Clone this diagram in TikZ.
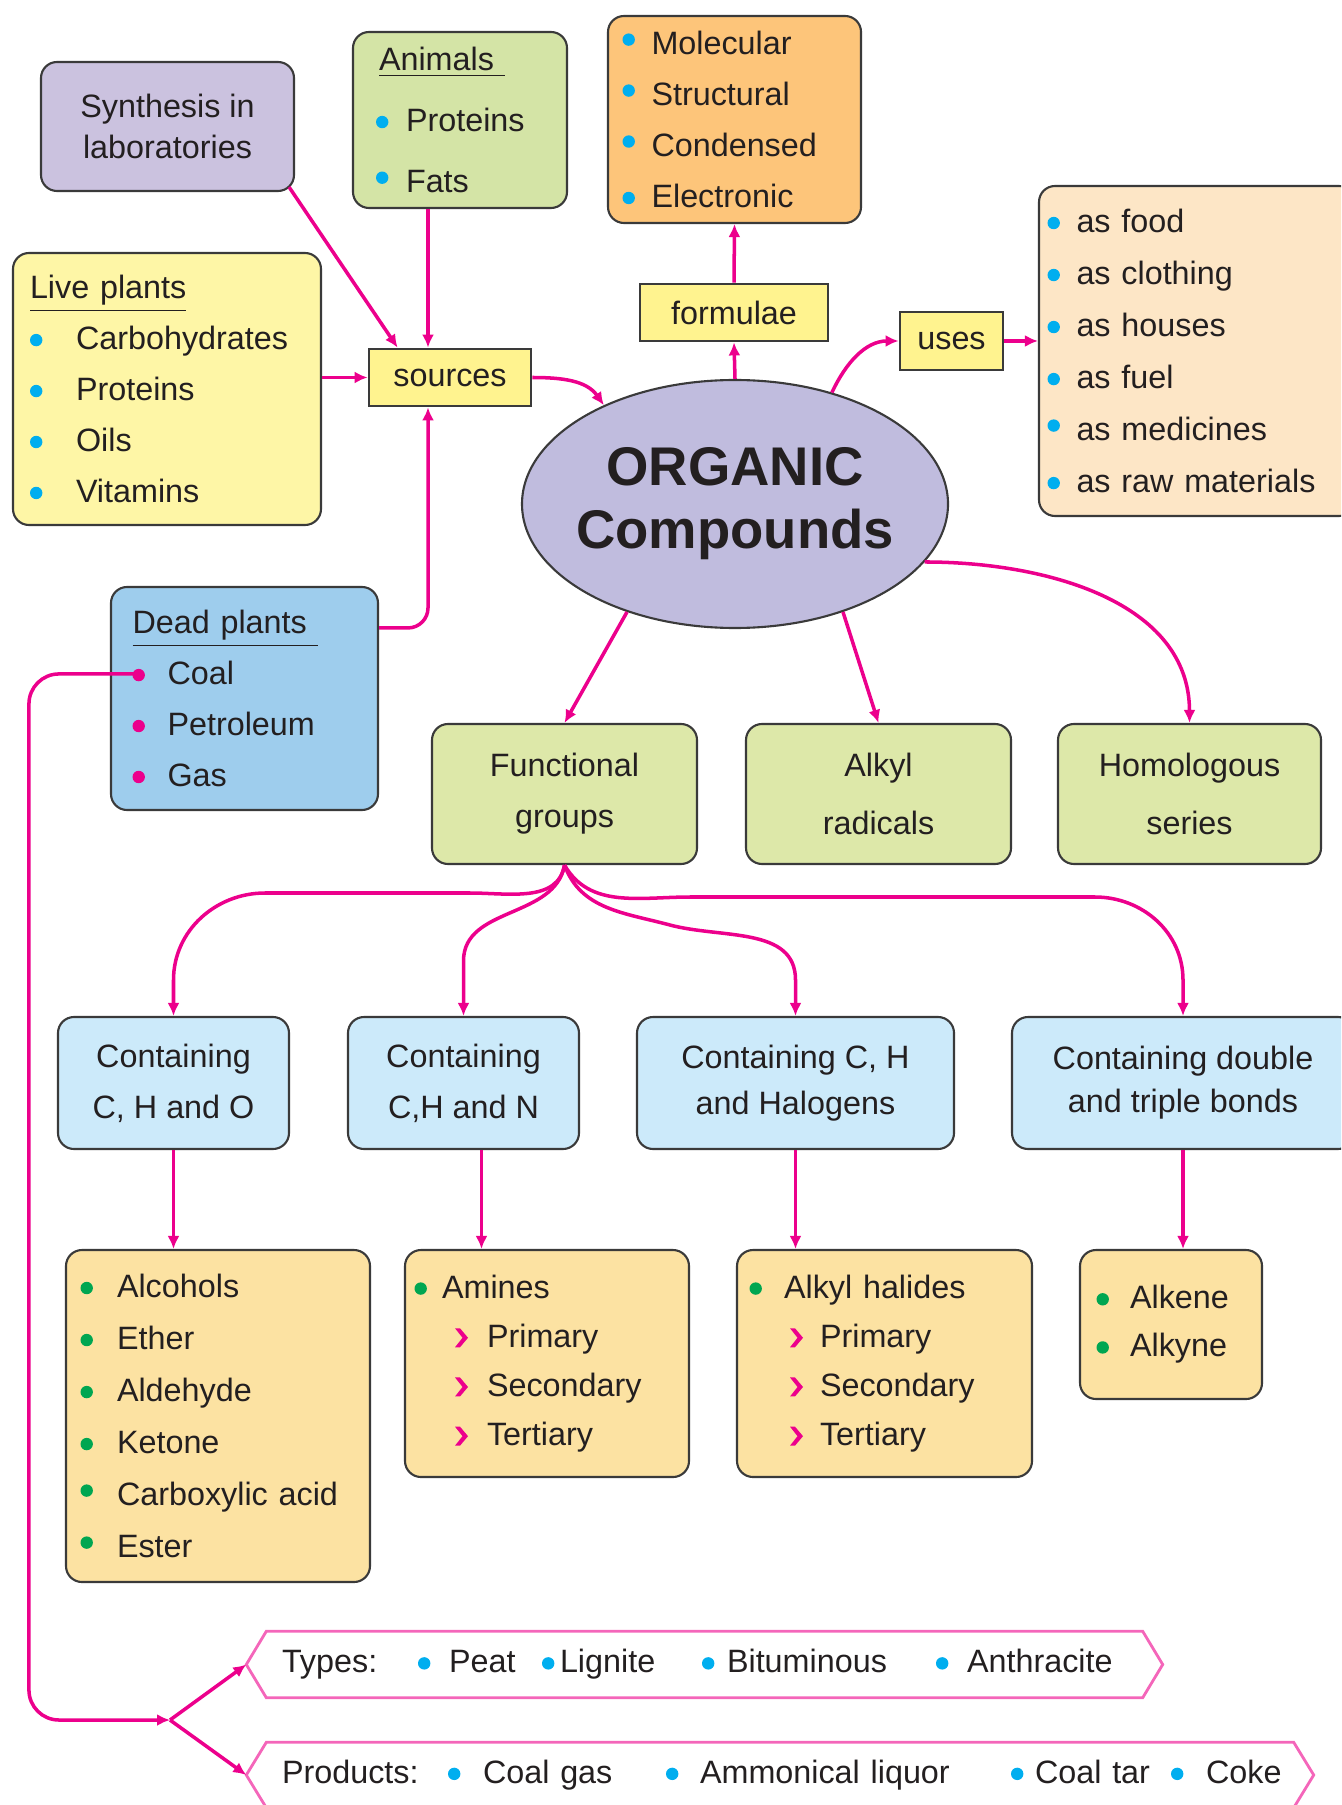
\documentclass[tikz,border=0pt]{standalone}
\usepackage{fontspec}
\setmainfont{Liberation Sans}
\usetikzlibrary{positioning, arrows.meta, shapes.geometric}
\definecolor{pinkln}{HTML}{EC008C}
\definecolor{bulcyan}{HTML}{00AEEF}
\definecolor{bulgreen}{HTML}{00A651}
\definecolor{txtcol}{HTML}{231F20}
\definecolor{boxln}{HTML}{3A3A3A}
\definecolor{synthcol}{HTML}{CBC2DF}
\definecolor{animcol}{HTML}{D4E4A6}
\definecolor{fmlcol}{HTML}{FDC57A}
\definecolor{livecol}{HTML}{FEF6A6}
\definecolor{tagyel}{HTML}{FFF38F}
\definecolor{usecol}{HTML}{FDE6C6}
\definecolor{orgcol}{HTML}{C0BCDE}
\definecolor{deadcol}{HTML}{9ECDED}
\definecolor{funccol}{HTML}{DDE8A9}
\definecolor{contcol}{HTML}{CCEAFA}
\definecolor{listcol}{HTML}{FCE2A2}
\newcommand{\fs}{\fontsize{9.2}{14.5}\selectfont}
\newcommand{\ttlfont}{\fontsize{15.5}{17.9}\selectfont\bfseries}
\newcommand{\blt}[2]{\makebox[#2][l]{\tikz[baseline=0pt, sharp corners]\fill[#1] (0.055,0.095) circle (0.062);}}
\newcommand{\rblt}[2]{\makebox[#2][l]{\tikz[baseline=0pt, sharp corners]\fill[#1] (0.055,0.15) circle (0.062);}}
\newcommand{\chv}[1]{\makebox[#1][l]{\tikz[baseline=0pt, sharp corners]\fill[pinkln] (0,0.19) -- (0.05,0.19) -- (0.13,0.095) -- (0.05,0) -- (0,0) -- (0.075,0.095) -- cycle;}}

\begin{document}
\begin{tikzpicture}[
    every node/.style={font=\fs, text=txtcol},
    panel/.style={draw=boxln, line width=0.6pt, rounded corners=0.16cm, fill=#1},
    tagbox/.style={draw=boxln, line width=0.8pt, fill=tagyel, inner sep=0pt},
    arr/.style={draw=pinkln, line width=1pt, -{Latex[length=1.3mm,width=1.2mm]}},
    banln/.style={draw=pinkln!60, line width=0.8pt},
    >=Latex,
  ]
  \useasboundingbox (0,0) rectangle (13.41,-18.05);
  \clip (0,0) rectangle (13.41,-18.05);

  % sources side
  \node[panel=synthcol, minimum width=2.53cm, minimum height=1.29cm, align=center,
        font=\fontsize{9.2}{11.7}\selectfont] (synth) at (1.675,-1.265)
    {Synthesis in\\laboratories};
  \node[panel=animcol, minimum width=2.14cm, minimum height=1.76cm, text width=1.68cm,
        inner xsep=0.23cm, align=left, font=\fontsize{9.2}{17.4}\selectfont] (anim) at (4.60,-1.20)
    {\hspace*{0.03cm}\underline{Animals\ }\\ \blt{bulcyan}{0.30cm}Proteins\\ \rblt{bulcyan}{0.30cm}Fats};
  \node[panel=livecol, minimum width=3.08cm, minimum height=2.72cm, text width=2.74cm,
        inner xsep=0.17cm, align=left] (live) at (1.67,-3.89)
    {\underline{Live plants}\\ \blt{bulcyan}{0.46cm}Carbohydrates\\ \blt{bulcyan}{0.46cm}Proteins\\
     \blt{bulcyan}{0.46cm}Oils\\ \blt{bulcyan}{0.46cm}Vitamins};
  \node[panel=deadcol, minimum width=2.67cm, minimum height=2.23cm, text width=2.24cm,
        inner xsep=0.215cm, align=left] (dead) at (2.445,-6.985)
    {\underline{Dead plants\ }\\ \blt{pinkln}{0.35cm}Coal\\ \blt{pinkln}{0.35cm}Petroleum\\ \blt{pinkln}{0.35cm}Gas};
  \node[tagbox, minimum width=1.62cm, minimum height=0.57cm] (src) at (4.50,-3.775) {sources};

  % formulae and uses
  \node[panel=fmlcol, minimum width=2.53cm, minimum height=2.07cm, text width=2.24cm,
        inner xsep=0.145cm, align=left] (fml) at (7.345,-1.195)
    {\rblt{bulcyan}{0.29cm}Molecular\\ \rblt{bulcyan}{0.29cm}Structural\\
     \rblt{bulcyan}{0.29cm}Condensed\\ \blt{bulcyan}{0.29cm}Electronic};
  \node[tagbox, minimum width=1.88cm, minimum height=0.57cm] (form) at (7.34,-3.125) {formulae};
  \node[tagbox, minimum width=1.03cm, minimum height=0.58cm] (uses) at (9.515,-3.41) {uses};
  \node[panel=usecol, minimum width=3.16cm, minimum height=3.30cm, text width=2.99cm,
        inner xsep=0.085cm, align=left, font=\fontsize{9.2}{14.8}\selectfont] (usebox) at (11.97,-3.51)
    {\blt{bulcyan}{0.29cm}as food\\ \blt{bulcyan}{0.29cm}as clothing\\ \blt{bulcyan}{0.29cm}as houses\\
     \blt{bulcyan}{0.29cm}as fuel\\ \rblt{bulcyan}{0.29cm}as medicines\\ \blt{bulcyan}{0.29cm}as raw materials};

  \node[ellipse, draw=boxln, line width=0.6pt, fill=orgcol, minimum width=4.26cm, minimum height=2.48cm,
        inner sep=0pt, align=center, font=\ttlfont] (org) at (7.35,-5.04)
    {\makebox[2.9cm]{ORGANIC}\\\makebox[2.9cm]{Compounds}};

  % second row
  \node[panel=funccol, minimum width=2.65cm, minimum height=1.40cm, align=center] (func) at (5.645,-7.94)
    {Functional\\groups};
  \node[panel=funccol, minimum width=2.65cm, minimum height=1.40cm, align=center,
        font=\fontsize{9.2}{16.5}\selectfont] (alk) at (8.785,-7.94) {Alkyl\\radicals};
  \node[panel=funccol, minimum width=2.63cm, minimum height=1.40cm, align=center,
        font=\fontsize{9.2}{16.5}\selectfont] (homo) at (11.895,-7.94) {Homologous\\series};

  \node[panel=contcol, minimum width=2.31cm, minimum height=1.32cm, align=center] (cho) at (1.735,-10.83)
    {Containing\\C, H and O};
  \node[panel=contcol, minimum width=2.31cm, minimum height=1.32cm, align=center] (chn) at (4.635,-10.83)
    {Containing\\C,H and N};
  \node[panel=contcol, minimum width=3.17cm, minimum height=1.32cm, align=center,
        font=\fontsize{9.2}{13.1}\selectfont] (chh) at (7.955,-10.83) {Containing C, H\\and Halogens};
  \node[panel=contcol, minimum width=3.42cm, minimum height=1.32cm, align=center,
        font=\fontsize{9.2}{12.3}\selectfont] (dbl) at (11.83,-10.83) {Containing double\\and triple bonds};

  \node[panel=listcol, minimum width=3.04cm, minimum height=3.32cm, text width=2.75cm,
        inner xsep=0.145cm, align=left, font=\fontsize{9.2}{14.8}\selectfont] (alc) at (2.18,-14.16)
    {\blt{bulgreen}{0.365cm}Alcohols\\ \blt{bulgreen}{0.365cm}Ether\\ \blt{bulgreen}{0.365cm}Aldehyde\\
     \blt{bulgreen}{0.365cm}Ketone\\ \rblt{bulgreen}{0.365cm}Carboxylic acid\\ \rblt{bulgreen}{0.365cm}Ester};
  \node[panel=listcol, minimum width=2.84cm, minimum height=2.27cm, text width=2.65cm,
        inner xsep=0.095cm, align=left, font=\fontsize{9.2}{14}\selectfont] (amn) at (5.47,-13.635)
    {\blt{bulgreen}{0.275cm}Amines\\ \hspace*{0.405cm}\chv{0.32cm}Primary\\
     \hspace*{0.405cm}\chv{0.32cm}Secondary\\ \hspace*{0.405cm}\chv{0.32cm}Tertiary};
  \node[panel=listcol, minimum width=2.95cm, minimum height=2.27cm, text width=2.70cm,
        inner xsep=0.125cm, align=left, font=\fontsize{9.2}{14}\selectfont] (ahl) at (8.845,-13.635)
    {\blt{bulgreen}{0.345cm}Alkyl halides\\ \hspace*{0.405cm}\chv{0.30cm}Primary\\
     \hspace*{0.405cm}\chv{0.30cm}Secondary\\ \hspace*{0.405cm}\chv{0.30cm}Tertiary};
  \node[panel=listcol, minimum width=1.82cm, minimum height=1.49cm, text width=1.49cm,
        inner xsep=0.165cm, align=left, font=\fontsize{9.2}{13.7}\selectfont] (alkn) at (11.71,-13.245)
    {\blt{bulgreen}{0.335cm}Alkene\\ \blt{bulgreen}{0.335cm}Alkyne};

  % coal banners
  \node[minimum width=9.15cm, minimum height=0.65cm, text width=8.45cm, inner xsep=0.35cm,
        inner ysep=0pt, align=left] (typ) at (7.045,-16.645)
    {\makebox[1.36cm][l]{Types:}\makebox[1.24cm][l]{\blt{bulcyan}{0.31cm}Peat}%
     \makebox[1.60cm][l]{\blt{bulcyan}{0.18cm}Lignite}\makebox[2.34cm][l]{\blt{bulcyan}{0.25cm}Bituminous}%
     \blt{bulcyan}{0.31cm}Anthracite};
  \node[minimum width=10.66cm, minimum height=0.64cm, text width=9.96cm, inner xsep=0.35cm,
        inner ysep=0pt, align=left] (prd) at (7.80,-17.75)
    {\makebox[1.66cm][l]{Products:}\makebox[2.18cm][l]{\blt{bulcyan}{0.35cm}Coal gas}%
     \makebox[3.45cm][l]{\blt{bulcyan}{0.34cm}Ammonical liquor}\makebox[1.60cm][l]{\blt{bulcyan}{0.24cm}Coal tar}%
     \blt{bulcyan}{0.35cm}Coke};
  \foreach \b in {typ,prd}
    \draw[banln] (\b.west) -- ([xshift=0.2cm]\b.north west) -- ([xshift=-0.2cm]\b.north east) -- (\b.east)
      -- ([xshift=-0.2cm]\b.south east) -- ([xshift=0.2cm]\b.south west) -- cycle;

  \coordinate (coal) at ([xshift=0.27cm,yshift=-0.88cm]dead.north west);
  \coordinate (jn) at (1.70,-17.20);

  % connectors
  \draw[arr] ([xshift=-0.06cm,yshift=0.05cm]synth.south east) -- ([xshift=0.30cm]src.north west);
  \draw[arr] ([xshift=-0.32cm]anim.south) -- ([xshift=-0.32cm]anim.south |- src.north);
  \draw[arr] (live.east |- src.west) -- (src.west);
  \draw[arr, rounded corners=0.2cm] ([yshift=-0.42cm]dead.north east) -| ([xshift=-0.22cm]src.south);
  \draw[arr] (src.east) to[out=0, in=125] (org.143);
  \draw[arr] (org.north) -- (form.south);
  \draw[arr] (form.north) -- (fml.south);
  \draw[arr] (org.49) to[out=65, in=180] (uses.west);
  \draw[arr] (uses.east) -- (uses.east -| usebox.west);
  \draw[arr] (org.225) -- (func.north);
  \draw[arr] (org.315) -- (alk.north);
  \draw[arr] (org.343) to[out=0, in=90] (homo.north);

  \draw[arr] (func.south) to[out=-100, in=0] (4.70,-8.93) -- (2.65,-8.93) to[out=180, in=90] (1.735,-9.80) -- (cho.north);
  \draw[arr] (func.south) to[out=-100, in=90] ([yshift=0.55cm]chn.north) -- (chn.north);
  \draw[arr] (func.south) to[out=-70, in=165] (6.70,-9.25) to[out=-15, in=90] (7.955,-9.80) -- (chh.north);
  \draw[arr] (func.south) to[out=-60, in=180] (6.90,-8.97) -- (10.95,-8.97) to[out=0, in=90] (11.83,-9.80) -- (dbl.north);

  \draw[arr] (cho.south) -- (cho.south |- alc.north);
  \draw[arr] ([xshift=0.18cm]chn.south) -- ([xshift=0.18cm]chn.south |- amn.north);
  \draw[arr] (chh.south) -- (chh.south |- ahl.north);
  \draw[arr] (dbl.south) -- (dbl.south |- alkn.north);

  \draw[arr, rounded corners=0.3cm] (coal) -- ++(-1.08,0) |- (jn);
  \draw[arr] (jn) -- (typ.west);
  \draw[arr] (jn) -- (prd.west);
\end{tikzpicture}
\end{document}
